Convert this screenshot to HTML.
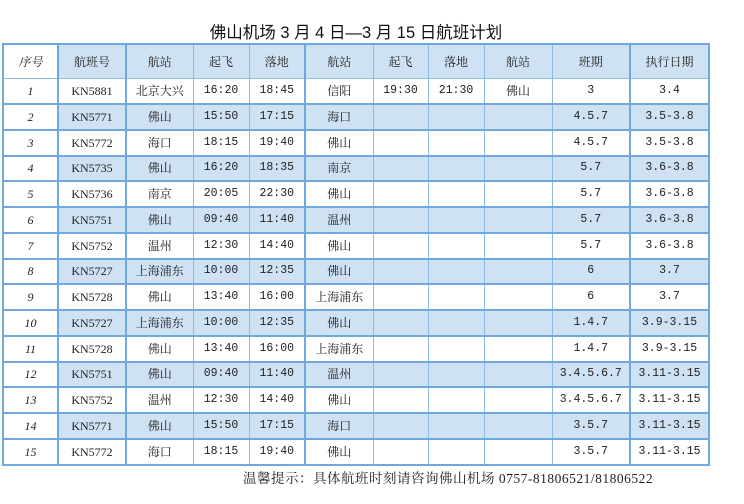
<!DOCTYPE html>
<html><head><meta charset="utf-8"><style>
body{margin:0;width:744px;height:504px;background:#fff;position:relative;overflow:hidden;font-family:"Liberation Serif","Noto Serif CJK SC",serif;color:#222}
.title{position:absolute;left:0;width:712px;top:19px;text-align:center;font-size:16.5px;font-family:"Liberation Sans","Noto Sans CJK SC",sans-serif;color:#111;white-space:pre}
table{position:absolute;left:2px;top:43px;border-collapse:collapse;table-layout:fixed;font-size:12px}
td{border:1px solid #8dbbe3;text-align:center;padding:0;height:24.25px;line-height:14px;white-space:nowrap;overflow:hidden}
tr.h td{height:33px;background:#cfe2f3;vertical-align:middle}
tr.b td{background:#cfe2f3;border-top:2px solid #6fa8dc;border-bottom:2px solid #6fa8dc;height:23.25px}
tr td:first-child{background:#fff;font-style:italic}
td.t{border-left:2px solid #6fa8dc}
table{border:2px solid #6fa8dc}
.m{font-family:"Liberation Mono","DejaVu Sans Mono",monospace;font-size:11.5px}
.foot{position:absolute;left:243px;top:467px;font-size:13.5px;letter-spacing:0.5px;color:#222;white-space:nowrap}
</style></head><body>
<div class="title">佛山机场 3 月 4 日—3 月 15 日航班计划</div>
<table>
<colgroup><col style="width:55px"><col style="width:68px"><col style="width:67px"><col style="width:56px"><col style="width:56px"><col style="width:68px"><col style="width:55px"><col style="width:56px"><col style="width:68px"><col style="width:78px"><col style="width:79px"></colgroup>
<tr class="h"><td>序号</td><td class="t">航班号</td><td class="t">航站</td><td>起飞</td><td>落地</td><td class="t">航站</td><td>起飞</td><td>落地</td><td>航站</td><td>班期</td><td class="t">执行日期</td></tr>
<tr><td>1</td><td class="t">KN5881</td><td class="t">北京大兴</td><td class="m">16:20</td><td class="m">18:45</td><td class="t">信阳</td><td class="m">19:30</td><td class="m">21:30</td><td>佛山</td><td class="m">3</td><td class="t m">3.4</td></tr>
<tr class="b"><td>2</td><td class="t">KN5771</td><td class="t">佛山</td><td class="m">15:50</td><td class="m">17:15</td><td class="t">海口</td><td></td><td></td><td></td><td class="m">4.5.7</td><td class="t m">3.5-3.8</td></tr>
<tr><td>3</td><td class="t">KN5772</td><td class="t">海口</td><td class="m">18:15</td><td class="m">19:40</td><td class="t">佛山</td><td></td><td></td><td></td><td class="m">4.5.7</td><td class="t m">3.5-3.8</td></tr>
<tr class="b"><td>4</td><td class="t">KN5735</td><td class="t">佛山</td><td class="m">16:20</td><td class="m">18:35</td><td class="t">南京</td><td></td><td></td><td></td><td class="m">5.7</td><td class="t m">3.6-3.8</td></tr>
<tr><td>5</td><td class="t">KN5736</td><td class="t">南京</td><td class="m">20:05</td><td class="m">22:30</td><td class="t">佛山</td><td></td><td></td><td></td><td class="m">5.7</td><td class="t m">3.6-3.8</td></tr>
<tr class="b"><td>6</td><td class="t">KN5751</td><td class="t">佛山</td><td class="m">09:40</td><td class="m">11:40</td><td class="t">温州</td><td></td><td></td><td></td><td class="m">5.7</td><td class="t m">3.6-3.8</td></tr>
<tr><td>7</td><td class="t">KN5752</td><td class="t">温州</td><td class="m">12:30</td><td class="m">14:40</td><td class="t">佛山</td><td></td><td></td><td></td><td class="m">5.7</td><td class="t m">3.6-3.8</td></tr>
<tr class="b"><td>8</td><td class="t">KN5727</td><td class="t">上海浦东</td><td class="m">10:00</td><td class="m">12:35</td><td class="t">佛山</td><td></td><td></td><td></td><td class="m">6</td><td class="t m">3.7</td></tr>
<tr><td>9</td><td class="t">KN5728</td><td class="t">佛山</td><td class="m">13:40</td><td class="m">16:00</td><td class="t">上海浦东</td><td></td><td></td><td></td><td class="m">6</td><td class="t m">3.7</td></tr>
<tr class="b"><td>10</td><td class="t">KN5727</td><td class="t">上海浦东</td><td class="m">10:00</td><td class="m">12:35</td><td class="t">佛山</td><td></td><td></td><td></td><td class="m">1.4.7</td><td class="t m">3.9-3.15</td></tr>
<tr><td>11</td><td class="t">KN5728</td><td class="t">佛山</td><td class="m">13:40</td><td class="m">16:00</td><td class="t">上海浦东</td><td></td><td></td><td></td><td class="m">1.4.7</td><td class="t m">3.9-3.15</td></tr>
<tr class="b"><td>12</td><td class="t">KN5751</td><td class="t">佛山</td><td class="m">09:40</td><td class="m">11:40</td><td class="t">温州</td><td></td><td></td><td></td><td class="m">3.4.5.6.7</td><td class="t m">3.11-3.15</td></tr>
<tr><td>13</td><td class="t">KN5752</td><td class="t">温州</td><td class="m">12:30</td><td class="m">14:40</td><td class="t">佛山</td><td></td><td></td><td></td><td class="m">3.4.5.6.7</td><td class="t m">3.11-3.15</td></tr>
<tr class="b"><td>14</td><td class="t">KN5771</td><td class="t">佛山</td><td class="m">15:50</td><td class="m">17:15</td><td class="t">海口</td><td></td><td></td><td></td><td class="m">3.5.7</td><td class="t m">3.11-3.15</td></tr>
<tr><td>15</td><td class="t">KN5772</td><td class="t">海口</td><td class="m">18:15</td><td class="m">19:40</td><td class="t">佛山</td><td></td><td></td><td></td><td class="m">3.5.7</td><td class="t m">3.11-3.15</td></tr>
</table>
<div class="foot">温馨提示：具体航班时刻请咨询佛山机场 0757-81806521/81806522</div>
</body></html>
